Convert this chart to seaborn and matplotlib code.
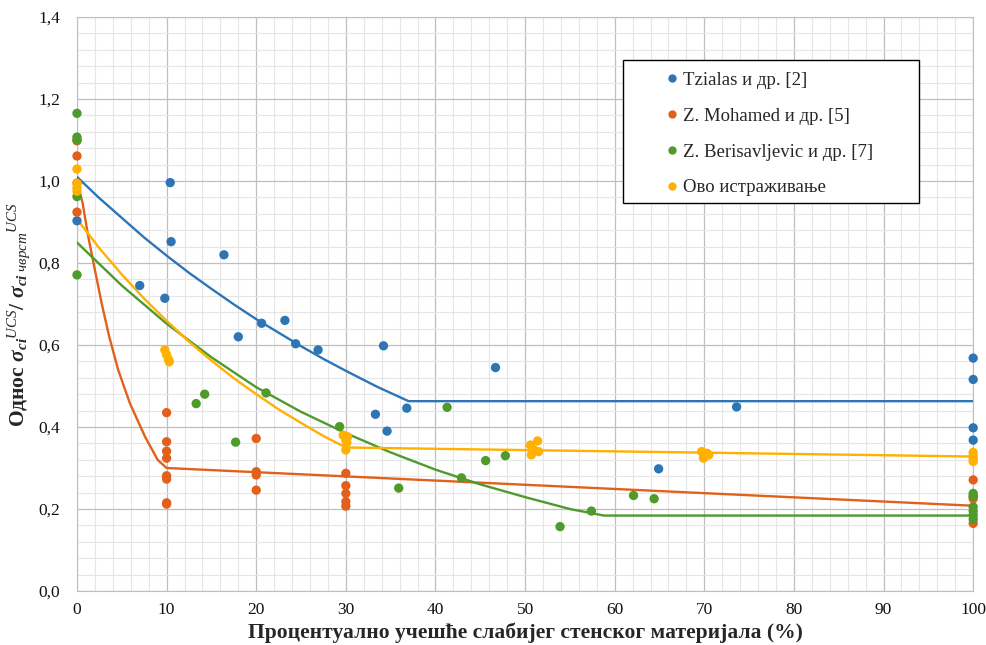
import matplotlib
matplotlib.use('Agg')
import matplotlib.pyplot as plt
from matplotlib.lines import Line2D
from matplotlib.patches import Rectangle
from matplotlib.ticker import MultipleLocator, FuncFormatter
import seaborn as sns
import pandas as pd

sns.set_style('white')
plt.rcParams['font.family'] = ['Liberation Serif', 'DejaVu Serif']
plt.rcParams['mathtext.fontset'] = 'custom'
plt.rcParams['mathtext.rm'] = 'Liberation Serif'
plt.rcParams['mathtext.it'] = 'Liberation Serif:italic'
plt.rcParams['mathtext.bf'] = 'Liberation Serif:bold'
plt.rcParams['mathtext.bfit'] = 'Liberation Serif:italic:bold'

# measured points
tz_x = [0, 10.4, 10.5, 16.4, 7.0, 9.8, 18.0, 20.6, 23.2, 24.4, 26.9, 34.2, 33.3, 34.6,
        36.8, 46.7, 64.9, 73.6, 100, 100, 100, 100]
tz_y = [0.903, 0.996, 0.852, 0.820, 0.745, 0.714, 0.620, 0.653, 0.660, 0.603, 0.588, 0.598,
        0.431, 0.390, 0.446, 0.545, 0.298, 0.449, 0.568, 0.516, 0.398, 0.368]

mo_x = [0, 0, 0, 0, 10, 10, 10, 10, 10, 10, 10, 10, 20, 20, 20, 20,
        30, 30, 30, 30, 30, 100, 100, 100, 100]
mo_y = [1.098, 1.061, 0.995, 0.924, 0.435, 0.364, 0.341, 0.324, 0.281, 0.273, 0.215, 0.212,
        0.372, 0.291, 0.283, 0.246, 0.287, 0.257, 0.238, 0.218, 0.207,
        0.271, 0.230, 0.225, 0.165]

be_x = [0, 0, 0, 0, 0, 13.3, 14.25, 17.7, 21.1, 29.3, 35.9, 41.3, 42.9, 45.6, 47.8,
        53.9, 57.4, 62.1, 64.4, 100, 100, 100, 100, 100, 100]
be_y = [1.165, 1.107, 1.100, 0.962, 0.771, 0.457, 0.480, 0.363, 0.483, 0.401, 0.251, 0.448,
        0.276, 0.318, 0.330, 0.157, 0.195, 0.233, 0.225, 0.238, 0.232, 0.205, 0.195, 0.185, 0.175]

ov_x = [0, 0, 0, 0, 9.8, 10.0, 10.2, 10.3, 29.7, 30.2, 30.0, 30.1, 30.0,
        50.6, 51.4, 50.7, 51.5, 51.0, 69.7, 70.5, 69.9, 70.3, 100, 100, 100, 100]
ov_y = [1.029, 0.994, 0.983, 0.975, 0.588, 0.576, 0.565, 0.559, 0.380, 0.376, 0.368, 0.362,
        0.344, 0.356, 0.366, 0.332, 0.340, 0.344, 0.340, 0.332, 0.324, 0.336,
        0.338, 0.330, 0.322, 0.316]

# trend lines
tz_fit_x = [0, 2.5, 5, 7.5, 10, 12.5, 15, 17.5, 20, 22.5, 25, 27.5, 30, 33.5, 37, 100]
tz_fit_y = [1.01, 0.958, 0.91, 0.862, 0.818, 0.776, 0.737, 0.699, 0.663, 0.630, 0.597,
            0.566, 0.537, 0.498, 0.463, 0.463]
mo_fit_x = [0, 0.63, 1.26, 2.0, 2.75, 3.6, 4.6, 5.9, 7.6, 9.0, 10, 100]
mo_fit_y = [1.0, 0.946, 0.864, 0.783, 0.702, 0.620, 0.539, 0.458, 0.376, 0.320, 0.300, 0.208]
be_fit_x = [0, 5, 10, 15, 20, 25, 30, 35, 40, 45, 50, 55, 58.8, 100]
be_fit_y = [0.85, 0.745, 0.652, 0.570, 0.497, 0.437, 0.385, 0.338, 0.296, 0.260, 0.229, 0.200,
            0.184, 0.184]
ov_fit_x = [0, 2.5, 5, 7.5, 10, 12.5, 15, 17.5, 20, 22.5, 25, 27.5, 30, 100]
ov_fit_y = [0.907, 0.836, 0.772, 0.713, 0.659, 0.608, 0.562, 0.519, 0.480, 0.443, 0.410,
            0.378, 0.350, 0.328]

labels = ['Tzialas и др. [2]', 'Z. Mohamed и др. [5]', 'Z. Berisavljevic и др. [7]', 'Ово истраживање']
colors = ['#2E75B6', '#E2601C', '#4E9A2A', '#FFB000']

pts = pd.concat([
    pd.DataFrame({'x': tz_x, 'y': tz_y, 'src': labels[0]}),
    pd.DataFrame({'x': mo_x, 'y': mo_y, 'src': labels[1]}),
    pd.DataFrame({'x': be_x, 'y': be_y, 'src': labels[2]}),
    pd.DataFrame({'x': ov_x, 'y': ov_y, 'src': labels[3]}),
])
fits = [(tz_fit_x, tz_fit_y), (mo_fit_x, mo_fit_y), (be_fit_x, be_fit_y), (ov_fit_x, ov_fit_y)]

fig = plt.figure(figsize=(9.87, 6.45), dpi=100)
ax = fig.add_axes([0.078, 0.0837, 0.908, 0.89])

for (fx, fy), c in zip(fits, colors):
    sns.lineplot(x=fx, y=fy, sort=False, estimator=None, color=c, lw=1.7, ax=ax, zorder=3)

sns.scatterplot(data=pts, x='x', y='y', hue='src', palette=dict(zip(labels, colors)),
                s=45, edgecolor='none', legend=False, ax=ax, zorder=4, clip_on=False)

ax.set_xlim(0, 100)
ax.set_ylim(0, 1.4)
ax.xaxis.set_major_locator(MultipleLocator(10))
ax.xaxis.set_minor_locator(MultipleLocator(2))
ax.yaxis.set_major_locator(MultipleLocator(0.2))
ax.yaxis.set_minor_locator(MultipleLocator(0.04))
ax.yaxis.set_major_formatter(FuncFormatter(lambda v, p: f'{v:.1f}'.replace('.', ',')))
ax.grid(which='major', color='#BFBFBF', lw=0.9)
ax.grid(which='minor', color='#E6E6E6', lw=0.8)
ax.set_axisbelow(True)
for s in ax.spines.values():
    s.set_color('#BFBFBF')
ax.tick_params(which='both', length=0, labelsize=12.5, colors='#111111')
ax.tick_params(axis='y', pad=12)
ax.tick_params(axis='x', pad=8)

ax.set_xlabel('Процентуално учешће слабијег стенског материјала (%)',
              fontsize=15.5, fontweight='bold', labelpad=3)
ax.set_ylabel(r'Однос $\mathbfit{\sigma}_{\mathbfit{ci}}{}^{\mathit{UCS}}$/ '
              r'$\mathbfit{\sigma}_{\mathbfit{ci}\ \mathit{чврст}}{}^{\mathit{UCS}}$',
              fontsize=15.5, fontweight='bold')
ax.yaxis.set_label_coords(-0.050, 0.481)

# legend box
ax.add_patch(Rectangle((0.609, 0.676), 0.330, 0.249, transform=ax.transAxes,
                       facecolor='white', edgecolor='black', lw=1, zorder=5))
handles = [Line2D([], [], marker='o', ls='none', color=c, markersize=5) for c in colors]
leg = ax.legend(handles, labels, loc='center left', bbox_to_anchor=(0.639, 0.796),
                frameon=False, fontsize=13.5, handlelength=0.6, handletextpad=0.3,
                labelspacing=1.0)
leg.set_zorder(6)

fig.savefig('out.png', dpi=100)
